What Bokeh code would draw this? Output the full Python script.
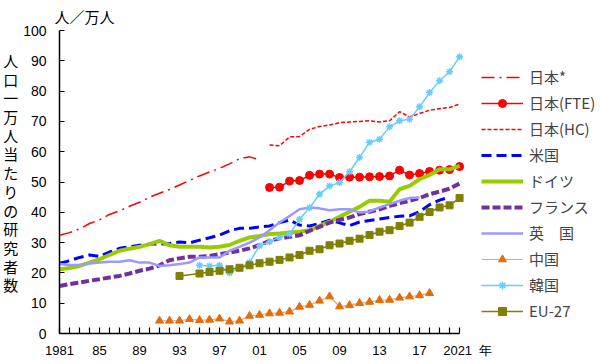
from bokeh.plotting import figure
from bokeh.models import Range1d, FixedTicker, Legend, LegendItem
from bokeh.embed import file_html
from bokeh.resources import INLINE

# ---- data ----
yrs_jp_star = list(range(1981, 2002))
jp_star = [32.4, 33.3, 34.5, 36.3, 37.5, 39.3, 40.5, 42.0, 43.3, 45.0, 46.3,
           47.5, 49.0, 50.5, 52.0, 53.3, 54.5, 56.0, 57.7, 58.3, 57.3]

yrs_jp = list(range(2002, 2022))
jp_fte = [48.2, 48.3, 50.3, 50.5, 52.2, 52.6, 52.6, 51.5, 51.6, 51.6,
          51.7, 51.8, 52.0, 53.9, 52.3, 52.8, 53.5, 53.9, 54.1, 55.1]
jp_hc = [62.2, 62.0, 64.9, 65.0, 67.4, 68.3, 68.8, 69.6, 69.8, 70.0,
         70.2, 69.8, 70.2, 73.2, 71.5, 72.6, 73.7, 74.2, 74.6, 75.7]

yrs_us = list(range(1981, 2021))
us = [23.2, 24.0, 25.1, 25.9, 25.4, 26.9, 28.1, 28.6, 29.1, 29.5,
      29.5, 29.7, 30.2, 29.9, 30.8, 31.6, 32.5, 33.9, 34.7, 34.7,
      35.2, 35.5, 36.6, 37.4, 35.8, 35.5, 36.3, 37.4, 36.5, 35.6,
      36.8, 37.3, 37.8, 38.3, 38.7, 38.8, 40.2, 42.5, 44.0, 45.0]

yrs_de = list(range(1981, 2022))
de = [21.2, 21.6, 22.3, 23.4, 24.5, 25.9, 27.3, 28.0, 28.6, 29.5,
      30.6, 29.1, 28.6, 28.6, 28.6, 28.4, 28.6, 29.2, 30.6, 31.7,
      32.2, 32.8, 33.0, 33.3, 33.6, 34.1, 35.5, 36.9, 38.5, 40.2,
      41.8, 43.8, 43.8, 43.5, 47.6, 48.7, 50.9, 52.3, 54.2, 54.2, 55.3]

yrs_fr = list(range(1981, 2022))
fr = [15.7, 16.3, 16.8, 17.4, 17.9, 18.5, 19.0, 19.8, 20.7, 21.4,
      22.5, 24.2, 24.8, 25.3, 25.3, 25.6, 26.2, 26.7, 27.3, 28.1,
      29.2, 30.6, 31.4, 31.9, 32.4, 33.9, 35.2, 36.6, 37.5, 38.3,
      39.4, 40.2, 41.0, 42.1, 43.0, 43.8, 44.7, 46.0, 46.8, 47.8, 49.5]

yrs_uk = list(range(1981, 2018))
uk = [22.9, 22.6, 22.6, 23.1, 23.4, 23.7, 23.7, 24.2, 23.4, 23.4,
      22.3, 22.5, 22.9, 23.4, 25.1, 25.1, 25.1, 27.3, 28.6, 30.0,
      31.7, 34.1, 36.6, 38.8, 41.0, 41.6, 41.3, 40.7, 41.0, 41.0,
      39.9, 40.2, 41.6, 42.7, 43.8, 44.7, 44.9]

yrs_cn = list(range(1991, 2019))
cn = [4.2, 4.2, 4.2, 4.7, 4.4, 4.5, 4.9, 3.9, 4.2, 5.8,
      6.1, 6.6, 6.8, 7.2, 8.8, 9.4, 10.8, 12.2, 8.9, 9.3,
      10.0, 10.4, 11.0, 11.1, 11.8, 12.2, 12.6, 13.3]

yrs_kr = list(range(1995, 2022))
kr = [22.5, 22.3, 22.5, 20.0, 21.5, 23.5, 29.0, 30.3, 31.8, 32.8,
      37.7, 41.5, 46.0, 48.7, 49.8, 53.4, 58.1, 63.1, 64.1, 68.2,
      70.2, 70.7, 74.8, 79.5, 83.4, 86.4, 91.3]

yrs_eu = [1993] + list(range(1995, 2022))
eu = [19.0, 19.8, 20.3, 20.7, 21.2, 21.7, 22.5, 23.2, 23.7, 24.3,
      25.1, 25.9, 27.3, 27.8, 29.1, 29.7, 30.6, 31.3, 32.5, 33.6,
      34.1, 35.5, 36.6, 38.5, 40.1, 41.6, 42.3, 44.7]

x_tick_labels = {1981: "1981", 1985: "85", 1989: "89", 1993: "93", 1997: "97",
                 2001: "01", 2005: "05", 2009: "09", 2013: "13", 2017: "17",
                 2021: "\u2003\u20092021\u2002年"}
y_ticks = list(range(0, 101, 10))

legend_names = ["日本*", "日本(FTE)", "日本(HC)", "米国", "ドイツ", "フランス",
                "英　国", "中国", "韓国", "EU-27"]

y_title = "人口一万人当たりの研究者数"
unit_title = "人／万人"

CJK = "Noto Sans CJK JP"
NUM = "Liberation Sans"

# ---- figure ----
# x range extends to the right so that the legend lies inside the frame;
# the axis itself is bounded to 1981-2021.
p = figure(width=600, height=364, output_backend="svg", toolbar_location=None,
           x_range=Range1d(1981, 2035.09), y_range=Range1d(0, 100),
           min_border_left=55, min_border_right=0, min_border_top=30,
           min_border_bottom=31, title=unit_title)
p.outline_line_color = None
p.grid.visible = False
p.background_fill_color = "white"

p.title.text_font = CJK
p.title.text_font_size = "15px"
p.title.text_font_style = "normal"
p.title.align = "left"
p.title.offset = -5
p.title.standoff = 7
p.title.text_color = "black"

xa = p.xaxis[0]
xa.bounds = (1981, 2021)
xa.ticker = FixedTicker(ticks=list(range(1981, 2022)))
xa.major_label_overrides = {y: x_tick_labels.get(y, "") for y in range(1981, 2022)}
xa.major_tick_in = 6
xa.major_tick_out = 0
xa.minor_tick_line_color = None
xa.axis_line_width = 1.5
xa.major_tick_line_width = 1.2
xa.major_label_text_font = NUM
xa.major_label_text_font_size = "13px"
xa.major_label_standoff = 9
xa.major_label_text_color = "black"

ya = p.yaxis[0]
ya.bounds = (0, 100)
ya.ticker = FixedTicker(ticks=y_ticks)
ya.major_tick_in = 5
ya.major_tick_out = 0
ya.minor_tick_line_color = None
ya.axis_line_width = 1.5
ya.major_tick_line_width = 1.2
ya.major_label_text_font = NUM
ya.major_label_text_font_size = "14px"
ya.major_label_standoff = 13
ya.major_label_text_color = "black"
# trailing ideographic-space line lifts the stacked title slightly
ya.axis_label = "\n".join(y_title) + "\n\u3000"
ya.axis_label_orientation = "horizontal"
ya.axis_label_text_font = CJK
ya.axis_label_text_font_size = "15px"
ya.axis_label_text_font_style = "normal"
ya.axis_label_text_line_height = 0.89
ya.axis_label_standoff = 2
ya.axis_label_text_color = "black"

# ---- series ----
r_jps = p.line(yrs_jp_star, jp_star, color="#FF0000", line_width=1.5, line_dash="13 5 2 5")
r_fte_l = p.line(yrs_jp, jp_fte, color="#FF0000", line_width=1.5)
r_fte_m = p.scatter(yrs_jp, jp_fte, marker="circle", size=8, color="#FF0000")
r_hc = p.line(yrs_jp, jp_hc, color="#FF0000", line_width=1.5, line_dash="4 2")
r_us = p.line(yrs_us, us, color="#0000FF", line_width=3, line_dash="10 5")
r_de = p.line(yrs_de, de, color="#99CC00", line_width=4)
r_fr = p.line(yrs_fr, fr, color="#7030A0", line_width=4, line_dash="8 3")
r_uk = p.line(yrs_uk, uk, color="#9999FF", line_width=2.5)
r_cn_l = p.line(yrs_cn, cn, color="#F4A46A", line_width=1.2)
r_cn_m = p.scatter(yrs_cn, cn, marker="triangle", size=8, color="#E46C0A")
r_kr_l = p.line(yrs_kr, kr, color="#66CCFF", line_width=1.5)
r_kr_m = p.scatter(yrs_kr, kr, marker="asterisk", size=7, line_color="#66CCFF", line_width=1.5)
r_eu_l = p.line(yrs_eu, eu, color="#808000", line_width=1.5)
r_eu_m = p.scatter(yrs_eu, eu, marker="square", size=7, color="#808000")

rends = [[r_jps], [r_fte_l, r_fte_m], [r_hc], [r_us], [r_de], [r_fr], [r_uk],
         [r_cn_l, r_cn_m], [r_kr_l, r_kr_m], [r_eu_l, r_eu_m]]
items = [LegendItem(label=n, renderers=r) for n, r in zip(legend_names, rends)]
legend = Legend(items=items, location=(422, 12), padding=0, margin=0,
                glyph_width=42, glyph_height=20, spacing=5, label_standoff=6,
                label_text_font=CJK, label_text_font_size="15px",
                border_line_alpha=0, background_fill_alpha=0)
p.add_layout(legend, "center")

open("out.html", "w").write(file_html(p, INLINE))
